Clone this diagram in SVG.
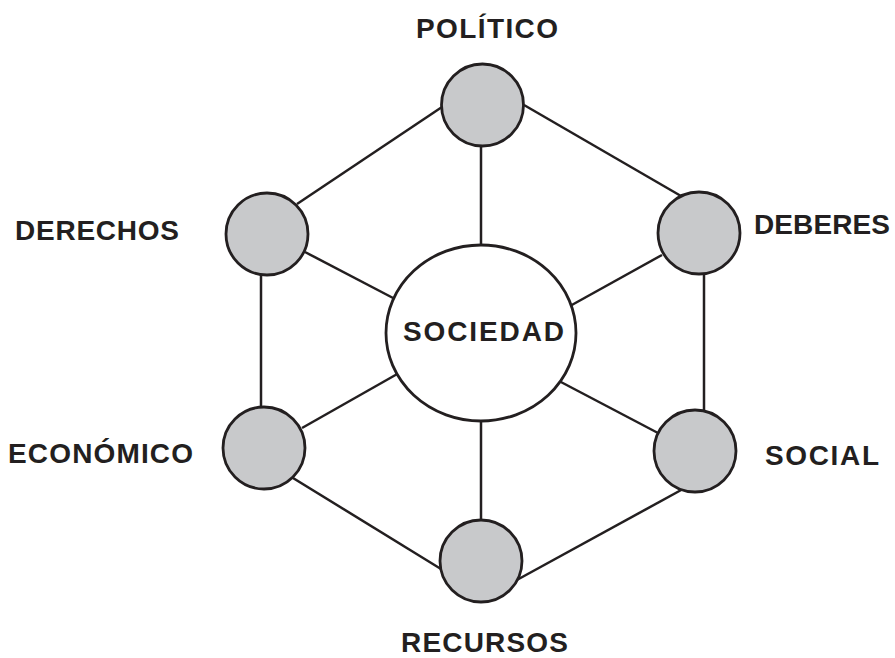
<svg xmlns="http://www.w3.org/2000/svg" width="895" height="658" viewBox="0 0 895 658">
<style>
.node{fill:#c8c9cb;stroke:#231f20;stroke-width:2.8}
.hub{fill:#ffffff;stroke:#231f20;stroke-width:2.8}
.edge{stroke:#231f20;stroke-width:2.5;fill:none}
.lbl{font-family:"Liberation Sans",Arial,sans-serif;font-weight:bold;font-size:28px;fill:#231f20}
</style>
<rect width="895" height="658" fill="#ffffff"/>
<g id="connectors">
<line class="edge" x1="442" y1="107" x2="297" y2="204"/>
<line class="edge" x1="524" y1="105" x2="681" y2="196"/>
<line class="edge" x1="481" y1="140" x2="481" y2="250"/>
<line class="edge" x1="261" y1="270" x2="261" y2="410"/>
<line class="edge" x1="704" y1="270" x2="704" y2="414"/>
<line class="edge" x1="305" y1="252" x2="395" y2="299"/>
<line class="edge" x1="662" y1="255" x2="570" y2="306"/>
<line class="edge" x1="302" y1="428" x2="399" y2="373"/>
<line class="edge" x1="658" y1="433" x2="559" y2="381"/>
<line class="edge" x1="293" y1="478" x2="441" y2="569"/>
<line class="edge" x1="683" y1="489" x2="515" y2="581"/>
<line class="edge" x1="481" y1="418" x2="481" y2="524"/>
</g>
<g id="sociedad">
<ellipse class="hub" cx="481" cy="333" rx="95" ry="88"/>
<text class="lbl" x="403" y="341" textLength="161" lengthAdjust="spacing" font-size="28.5">SOCIEDAD</text>
</g>
<g id="politico">
<circle class="node" cx="482.5" cy="105" r="41"/>
<text class="lbl" x="416" y="38" textLength="142" lengthAdjust="spacing">POLÍTICO</text>
</g>
<g id="derechos">
<circle class="node" cx="267" cy="234" r="41"/>
<text class="lbl" x="15" y="240" textLength="164" lengthAdjust="spacing">DERECHOS</text>
</g>
<g id="deberes">
<circle class="node" cx="699" cy="233" r="41"/>
<text class="lbl" x="754" y="234" textLength="136" lengthAdjust="spacing">DEBERES</text>
</g>
<g id="economico">
<circle class="node" cx="264" cy="448" r="41"/>
<text class="lbl" x="8" y="463" textLength="185" lengthAdjust="spacing">ECONÓMICO</text>
</g>
<g id="social">
<circle class="node" cx="695" cy="451" r="41"/>
<text class="lbl" x="765" y="465" textLength="114" lengthAdjust="spacing">SOCIAL</text>
</g>
<g id="recursos">
<circle class="node" cx="481" cy="561" r="41"/>
<text class="lbl" x="401" y="652" textLength="167" lengthAdjust="spacing">RECURSOS</text>
</g>
</svg>
